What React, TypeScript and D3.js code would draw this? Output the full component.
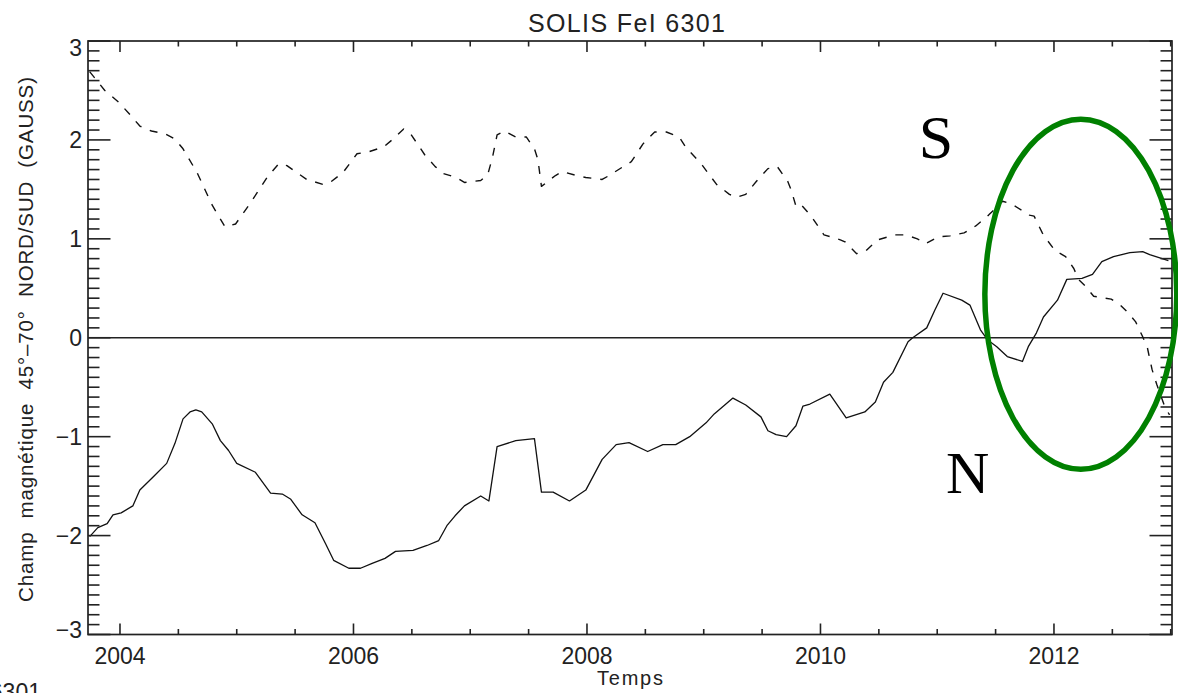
import React from "react";
import * as d3 from "d3";

// ---- data ----
const northYears = [
  2003.74, 2003.81, 2003.89, 2003.94, 2004.01, 2004.11, 2004.17, 2004.29, 2004.4, 2004.47,
  2004.54, 2004.6, 2004.65, 2004.7, 2004.79, 2004.86, 2004.93, 2005.0, 2005.16, 2005.29, 2005.39,
  2005.46, 2005.56, 2005.67, 2005.76, 2005.83, 2005.96, 2006.06, 2006.16, 2006.27, 2006.36,
  2006.51, 2006.63, 2006.73, 2006.8, 2006.87, 2006.95, 2007.09, 2007.16, 2007.23, 2007.39,
  2007.55, 2007.61, 2007.71, 2007.85, 2007.99, 2008.13, 2008.25, 2008.36, 2008.52, 2008.65,
  2008.76, 2008.88, 2009.02, 2009.09, 2009.25, 2009.36, 2009.49, 2009.55, 2009.62, 2009.71,
  2009.79, 2009.85, 2009.91, 2010.08, 2010.22, 2010.38, 2010.47, 2010.54, 2010.62, 2010.75,
  2010.79, 2010.91, 2010.98, 2011.05, 2011.21, 2011.28, 2011.37, 2011.43, 2011.51, 2011.6,
  2011.73, 2011.78, 2011.85, 2011.91, 2012.03, 2012.11, 2012.24, 2012.33, 2012.41, 2012.51,
  2012.65, 2012.76, 2012.82, 2012.98,
];
const northValues = [
  -2.01, -1.92, -1.88, -1.79, -1.77, -1.7, -1.54, -1.4, -1.27, -1.07,
  -0.82, -0.75, -0.73, -0.75, -0.87, -1.04, -1.14, -1.27, -1.36, -1.57, -1.58,
  -1.63, -1.79, -1.87, -2.08, -2.25, -2.33, -2.33, -2.28, -2.23, -2.16,
  -2.15, -2.1, -2.05, -1.9, -1.8, -1.7, -1.6, -1.65, -1.1, -1.04,
  -1.02, -1.56, -1.56, -1.65, -1.54, -1.23, -1.08, -1.06, -1.15, -1.08,
  -1.08, -1.0, -0.86, -0.77, -0.61, -0.68, -0.8, -0.94, -0.98, -1.0,
  -0.89, -0.69, -0.67, -0.57, -0.81, -0.75, -0.65, -0.45, -0.35, -0.04,
  0.0, 0.1, 0.28, 0.45, 0.38, 0.33, 0.08, -0.02, -0.09, -0.19,
  -0.24, -0.09, 0.05, 0.21, 0.38, 0.59, 0.6, 0.64, 0.77, 0.82,
  0.86, 0.87, 0.84, 0.78,
];

const southYears = [
  2003.74, 2003.87, 2003.99, 2004.09, 2004.17, 2004.27, 2004.39, 2004.47, 2004.54, 2004.66,
  2004.79, 2004.9, 2004.99, 2005.11, 2005.26, 2005.36, 2005.43, 2005.6, 2005.74, 2005.81,
  2005.91, 2006.03, 2006.13, 2006.26, 2006.33, 2006.43, 2006.49, 2006.61, 2006.7, 2006.77,
  2006.88, 2006.95, 2007.09, 2007.15, 2007.19, 2007.23, 2007.29, 2007.39, 2007.48, 2007.55,
  2007.58, 2007.61, 2007.73, 2007.79, 2007.91, 2007.99, 2008.13, 2008.19, 2008.31, 2008.38,
  2008.48, 2008.58, 2008.68, 2008.79, 2008.85, 2008.93, 2008.99, 2009.11, 2009.22, 2009.28,
  2009.36, 2009.45, 2009.55, 2009.63, 2009.72, 2009.75, 2009.79, 2009.83, 2009.92, 2010.03,
  2010.09, 2010.17, 2010.21, 2010.31, 2010.39, 2010.49, 2010.64, 2010.73, 2010.83, 2010.9,
  2011.01, 2011.11, 2011.23, 2011.33, 2011.44, 2011.56, 2011.64, 2011.79, 2011.83, 2011.9,
  2011.94, 2012.01, 2012.1, 2012.17, 2012.21, 2012.27, 2012.34, 2012.49, 2012.56, 2012.63,
  2012.7, 2012.76, 2012.8, 2012.84, 2012.88, 2012.95, 2012.99,
];
const southValues = [
  2.69, 2.5, 2.38, 2.25, 2.14, 2.09, 2.06, 2.01, 1.91, 1.67,
  1.34, 1.12, 1.15, 1.35, 1.62, 1.76, 1.74, 1.6, 1.55, 1.58,
  1.67, 1.86, 1.88, 1.93, 2.0, 2.11, 2.06, 1.85, 1.73, 1.66,
  1.62, 1.57, 1.59, 1.65, 1.82, 2.05, 2.09, 2.03, 2.03, 1.91,
  1.8, 1.53, 1.64, 1.68, 1.64, 1.62, 1.6, 1.64, 1.73, 1.78,
  1.96, 2.08, 2.08, 2.03, 1.92, 1.82, 1.74, 1.55, 1.45, 1.42,
  1.45, 1.58, 1.71, 1.73, 1.58, 1.49, 1.33, 1.35, 1.23, 1.04,
  1.02, 0.99, 0.97, 0.85, 0.88, 0.99, 1.04, 1.04, 1.0, 0.95,
  1.02, 1.03, 1.06, 1.13, 1.24, 1.38, 1.35, 1.24, 1.23, 1.06,
  0.99, 0.88, 0.82, 0.7, 0.59, 0.52, 0.42, 0.39, 0.34, 0.26,
  0.16, 0.01, -0.1, -0.32, -0.47, -0.7, -0.78,
];

const xTickYears = [2004, 2006, 2008, 2010, 2012];
const xTickLabels = ["2004", "2006", "2008", "2010", "2012"];
const yTickValues = [-3, -2, -1, 0, 1, 2, 3];
const yTickLabels = ["−3", "−2", "−1", "0", "1", "2", "3"];

const titleText = "SOLIS FeI 6301";
const xTitle = "Temps";
const yTitle = "Champ  magnétique  45°–70°  NORD/SUD  (GAUSS)";
const strayText = "6301";

// annotation (data units): labels S / N and the green ellipse
const labelS = { text: "S", year: 2010.99, value: 1.82 };
const labelN = { text: "N", year: 2011.26, value: -1.57 };
const ellipseAnn = { year: 2012.23, value: 0.44, halfYears: 0.822, halfValue: 1.77 };

// ---- layout ----
const W = 1178;
const H = 693;
const left = 88;
const right = 1172;
const top = 41;
const bottom = 634.5;
const xDomain = [2003.726, 2013.011];
const yDomain = [-3, 3];

const ink = "#222";
const sans = "'Liberation Sans', Arial, sans-serif";
const serif = "'Liberation Serif', 'Times New Roman', serif";

export default function App() {
  const x = d3.scaleLinear().domain(xDomain).range([left, right]);
  const y = d3.scaleLinear().domain(yDomain).range([bottom, top]);

  const north = northYears.map((t, i) => [t, northValues[i]] as [number, number]);
  const south = southYears.map((t, i) => [t, southValues[i]] as [number, number]);
  const line = d3
    .line<[number, number]>()
    .x((d) => x(d[0]))
    .y((d) => y(d[1]));

  const xMinor = d3.range(2004, 2013.2, 0.5).filter((t) => t >= xDomain[0] && t <= xDomain[1]);
  const yMinor = d3.range(-30, 31).map((k) => k / 10);

  const isMajorX = (t: number) => Math.abs(t / 2 - Math.round(t / 2)) < 1e-6;
  const isMajorY = (v: number) => Math.abs(v - Math.round(v)) < 1e-6;

  const majX = 11;
  const minX = 5.5;
  const majY = 22.5;
  const minY = 11.5;

  const ex = x(ellipseAnn.year);
  const ey = y(ellipseAnn.value);
  const erx = x(ellipseAnn.year + ellipseAnn.halfYears) - ex;
  const ery = ey - y(ellipseAnn.value + ellipseAnn.halfValue);

  return (
    <svg
      width={W}
      height={H}
      viewBox={`0 0 ${W} ${H}`}
      style={{ position: "absolute", left: 0, top: 0, background: "#fff" }}
    >
      <rect x={0} y={0} width={W} height={H} fill="#fff" />
      <defs>
        <clipPath id="plotClip">
          <rect x={left} y={top} width={right - left} height={bottom - top} />
        </clipPath>
      </defs>

      {/* title */}
      <text
        x={626.5}
        y={31.5}
        textAnchor="middle"
        fontFamily={sans}
        fontSize={25}
        fill={ink}
        textLength={197}
        lengthAdjust="spacing"
      >
        {titleText}
      </text>

      {/* zero line */}
      <line x1={left} x2={right} y1={y(0)} y2={y(0)} stroke={ink} strokeWidth={1.5} />

      {/* data lines */}
      <g clipPath="url(#plotClip)" fill="none">
        <path d={line(north) || ""} stroke="#111" strokeWidth={1.3} strokeLinejoin="round" />
        <path
          d={line(south) || ""}
          stroke="#111"
          strokeWidth={1.4}
          strokeDasharray="8 9"
          strokeLinejoin="round"
        />
      </g>

      {/* x ticks bottom & top */}
      {xMinor.map((t) => {
        const len = isMajorX(t) ? majX : minX;
        const px = x(t);
        return (
          <g key={"xt" + t}>
            <line x1={px} x2={px} y1={bottom} y2={bottom - len} stroke={ink} strokeWidth={1.6} />
            <line x1={px} x2={px} y1={top} y2={top + len} stroke={ink} strokeWidth={1.6} />
          </g>
        );
      })}

      {/* y ticks left & right */}
      {yMinor.map((v) => {
        const len = isMajorY(v) ? majY : minY;
        const py = y(v);
        return (
          <g key={"yt" + v}>
            <line x1={left} x2={left + len} y1={py} y2={py} stroke={ink} strokeWidth={1.6} />
            <line x1={right} x2={right - len} y1={py} y2={py} stroke={ink} strokeWidth={1.6} />
          </g>
        );
      })}

      {/* frame */}
      <rect
        x={left}
        y={top}
        width={right - left}
        height={bottom - top}
        fill="none"
        stroke={ink}
        strokeWidth={1.7}
      />

      {/* x tick labels */}
      {xTickYears.map((t, i) => (
        <text
          key={"xl" + t}
          x={x(t)}
          y={663.5}
          textAnchor="middle"
          fontFamily={sans}
          fontSize={23}
          fill={ink}
        >
          {xTickLabels[i]}
        </text>
      ))}

      {/* y tick labels */}
      {yTickValues.map((v, i) => {
        const cy = Math.min(630, Math.max(48, y(v)));
        return (
          <text
            key={"yl" + v}
            x={82}
            y={cy + 8}
            textAnchor="end"
            fontFamily={sans}
            fontSize={23}
            fill={ink}
          >
            {yTickLabels[i]}
          </text>
        );
      })}

      {/* axis titles */}
      <text
        x={630}
        y={685}
        textAnchor="middle"
        fontFamily={sans}
        fontSize={20}
        fill={ink}
        textLength={66}
        lengthAdjust="spacing"
      >
        {xTitle}
      </text>
      <text
        transform="translate(33,339.5) rotate(-90)"
        textAnchor="middle"
        fontFamily={sans}
        fontSize={20.5}
        fill={ink}
        textLength={525}
        lengthAdjust="spacing"
        style={{ whiteSpace: "pre" }}
      >
        {yTitle}
      </text>

      {/* stray text from a neighbouring figure, cut by the page edge as in the reference */}
      <text x={41} y={700} textAnchor="end" fontFamily={sans} fontSize={23} fill={ink}>
        {strayText}
      </text>

      {/* annotations */}
      <text
        x={x(labelS.year)}
        y={y(labelS.value)}
        textAnchor="middle"
        fontFamily={serif}
        fontSize={62}
        fill="#000"
      >
        {labelS.text}
      </text>
      <text
        x={x(labelN.year)}
        y={y(labelN.value)}
        textAnchor="middle"
        fontFamily={serif}
        fontSize={60}
        fill="#000"
      >
        {labelN.text}
      </text>
      <ellipse cx={ex} cy={ey} rx={erx} ry={ery} fill="none" stroke="#008000" strokeWidth={5.5} />
    </svg>
  );
}
